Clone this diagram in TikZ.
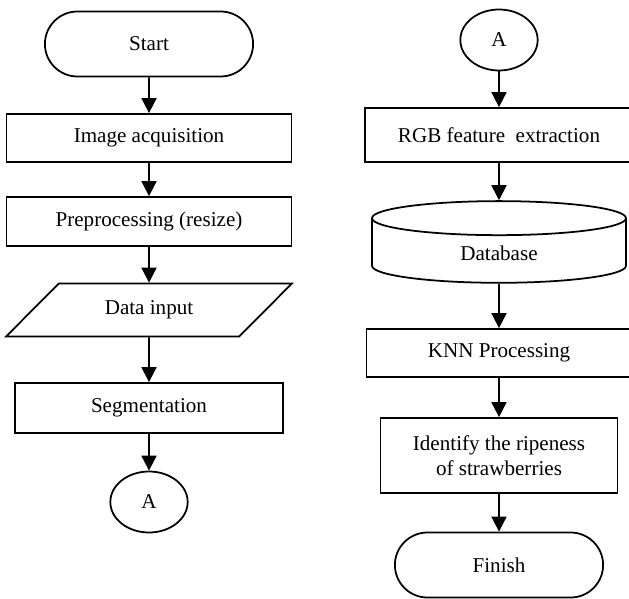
\documentclass[tikz,border=0pt]{standalone}
\usepackage{fontspec}
\setmainfont{Liberation Serif}
\usetikzlibrary{shapes.geometric, shapes.misc, arrows.meta}

\begin{document}
\begin{tikzpicture}[x=0.03cm, y=-0.03cm, font=\fontsize{18}{21}\selectfont,
    line width=1.5pt,
    terminal/.style={draw, rounded rectangle, minimum width=6.48cm, minimum height=1.95cm},
    process/.style={draw, rectangle, align=center},
    io/.style={draw, trapezium, trapezium left angle=43, trapezium right angle=137,
      trapezium stretches=true, minimum width=8.58cm, minimum height=1.59cm},
    connector/.style={draw, ellipse, inner sep=0pt, minimum width=2.32cm, minimum height=1.83cm},
    storage/.style={draw, cylinder, shape border rotate=90, aspect=0.4,
      minimum width=7.62cm, minimum height=2.45cm},
    flow/.style={-{Triangle[length=0.45cm, width=0.45cm]}}]
    \useasboundingbox (0,0) rectangle (629,598);

    % Left column
    \node[terminal] (start) at (149, 44) {Start};
    \node[process, minimum width=8.55cm, minimum height=1.44cm] (acq) at (149, 138) {Image acquisition};
    \node[process, minimum width=8.55cm, minimum height=1.47cm] (pre) at (149, 221.5) {Preprocessing (resize)};
    \node[io] (input) at (149, 310) {Data input};
    \node[process, minimum width=8.04cm, minimum height=1.5cm] (seg) at (149, 408) {Segmentation};
    \node[connector] (outA) at (149, 502) {A};

    % Right column
    \node[connector] (inA) at (499, 40) {A};
    \node[process, minimum width=8.04cm, minimum height=1.62cm] (rgb) at (499, 135) {RGB feature\ \ extraction};
    \node[storage] (db) at (499, 253) {Database};
    \node[process, minimum width=7.95cm, minimum height=1.44cm] (knn) at (499, 353) {KNN Processing};
    \node[process, minimum width=7.11cm, minimum height=2.25cm] (ident) at (499, 455.5) {Identify the ripeness\\of strawberries};
    \node[terminal] (finish) at (499, 565) {Finish};

    % Flow lines
    \draw[flow] (start) -- (acq);
    \draw[flow] (acq) -- (pre);
    \draw[flow] (pre) -- (input);
    \draw[flow] (input) -- (seg);
    \draw[flow] (seg) -- (outA);
    \draw[flow] (inA) -- (rgb);
    \draw[flow] (rgb) -- (db);
    \draw[flow] (db) -- (knn);
    \draw[flow] (knn) -- (ident);
    \draw[flow] (ident) -- (finish);
\end{tikzpicture}
\end{document}
